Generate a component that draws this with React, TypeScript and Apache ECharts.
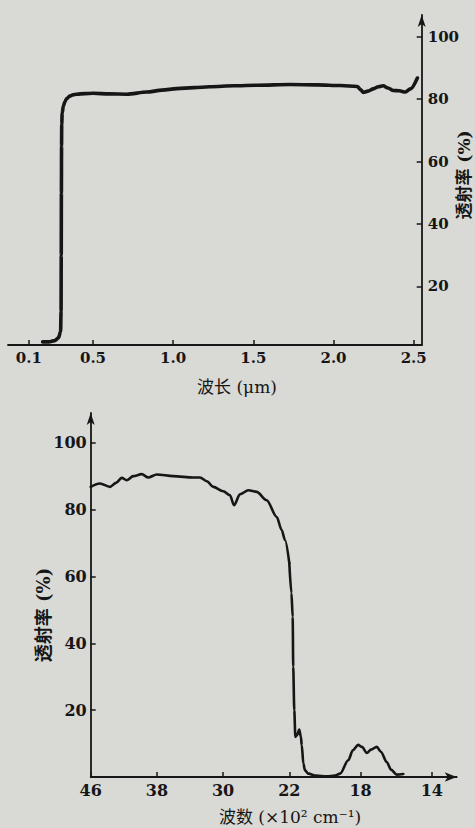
import React, { useEffect, useRef } from "react";
import * as echarts from "echarts";

// ---- Top chart: transmittance vs wavelength (µm) ----
const topWavelength = [
  0.186, 0.225, 0.261, 0.285, 0.298, 0.301, 0.302, 0.303, 0.304, 0.305, 0.308, 0.315,
  0.325, 0.336, 0.355, 0.375, 0.398, 0.45, 0.5, 0.6, 0.711, 0.836, 0.93, 1.023, 1.13,
  1.229, 1.38, 1.523, 1.729, 1.9, 2.042, 2.148, 2.17, 2.186, 2.215, 2.248, 2.28, 2.31,
  2.34, 2.373, 2.41, 2.448, 2.48, 2.523,
];
const topTransmittance = [
  2.2, 2.2, 2.6, 3.5, 5.5, 12, 30, 50, 65, 72, 75.5, 77.8,
  79.2, 80.2, 81, 81.4, 81.6, 81.8, 81.9, 81.7, 81.6, 82.3, 82.9, 83.4, 83.7,
  84.0, 84.3, 84.5, 84.7, 84.6, 84.4, 84.1, 83.0, 82.2, 82.6, 83.3, 84.0, 84.3,
  83.6, 82.8, 82.7, 82.3, 83.3, 86.8,
];
const topXTicks = [0.1, 0.5, 1.0, 1.5, 2.0, 2.5];
const topYTicks = [20, 40, 60, 80, 100];

// ---- Bottom chart: transmittance vs wavenumber (×10² cm⁻¹) ----
// section 46 → 22 (compressed scale)
const irWavenumberHigh = [
  46.0, 44.88, 43.67, 42.94, 42.25, 41.65, 40.85, 39.84, 39.04, 38.02, 36.02, 33.6,
  32.79, 31.98, 31.18, 29.98, 29.17, 28.68, 27.96, 26.95, 25.94, 24.73, 23.52, 22.92,
  22.52, 22.0,
];
const irTransmittanceHigh = [
  86.8, 87.8, 86.8, 88.0, 89.5, 88.8, 90.0, 90.6, 89.6, 90.5, 90.0, 89.6,
  89.6, 88.5, 86.8, 85.5, 84.3, 81.3, 84.6, 85.8, 85.3, 82.8, 77.8, 73.9,
  70.9, 64,
];
// section 22 → 14 (expanded scale)
const irWavenumberLow = [
  22.0, 21.88, 21.81, 21.78, 21.72, 21.66, 21.57, 21.44, 21.35, 21.3, 21.21, 21.12,
  20.93, 20.5, 19.9, 19.43, 19.15, 18.69, 18.43, 18.13, 17.92, 17.65, 17.41, 17.09,
  16.85, 16.53, 16.29, 15.97, 15.6,
];
const irTransmittanceLow = [
  64, 55, 47.9, 33, 20, 12, 12.5, 14.2, 12, 9.5, 4, 2,
  1.0, 0.4, 0.2, 0.4, 1.0, 5.0, 8.0, 9.6, 9.0, 7.2, 8.2, 9.0,
  7.5, 4.5, 2.2, 0.7, 0.9,
];
const irXTicksHigh = [46, 38, 30, 22];
const irXTicksLow = [18, 14];
const irYTicks = [20, 40, 60, 80, 100];

const INK = "#161616";
const NUM_FONT = "DejaVu Serif";
const CJK_FONT = '"DejaVu Serif", "Noto Sans CJK SC"';

const zip = (a: number[], b: number[]) => a.map((v, i) => [v, b[i]]);

export default function App() {
  const ref = useRef<HTMLDivElement>(null);

  useEffect(() => {
    if (!ref.current) return;
    const chart = echarts.init(ref.current, undefined, { renderer: "svg" });

    const axisLineStyle = { color: INK, width: 1.8 };
    const numLabel = (size: number) => ({
      color: INK,
      fontFamily: NUM_FONT,
      fontWeight: "bold" as const,
      fontSize: size,
    });

    const option: any = {
      animation: false,
      backgroundColor: "transparent",
      grid: [
        { left: 8, right: 53.3, top: 15, bottom: 483, outerBoundsMode: "none", containLabel: false },
        { left: 90.7, width: 198.6, top: 413, bottom: 51, outerBoundsMode: "none", containLabel: false },
        { left: 289.3, width: 167.4, top: 413, bottom: 51, outerBoundsMode: "none", containLabel: false },
      ],
      xAxis: [
        {
          type: "value",
          gridIndex: 0,
          min: -0.03,
          max: 2.55,
          axisLine: { show: true, onZero: false, lineStyle: axisLineStyle },
          axisTick: { show: true, inside: true, length: 5, customValues: topXTicks, lineStyle: { color: INK, width: 1.5 } },
          axisLabel: {
            ...numLabel(15),
            margin: 5,
            customValues: topXTicks,
            formatter: (v: number) => v.toFixed(1),
          },
          splitLine: { show: false },
        },
        {
          type: "value",
          gridIndex: 1,
          min: 22,
          max: 46,
          inverse: true,
          axisLine: { show: true, onZero: false, lineStyle: axisLineStyle },
          axisTick: { show: true, inside: true, length: 5, customValues: irXTicksHigh, lineStyle: { color: INK, width: 1.5 } },
          axisLabel: { ...numLabel(16), margin: 5, customValues: irXTicksHigh, formatter: (v: number) => String(v) },
          splitLine: { show: false },
        },
        {
          type: "value",
          gridIndex: 2,
          min: 12.6,
          max: 22,
          inverse: true,
          axisLine: {
            show: true,
            onZero: false,
            lineStyle: axisLineStyle,
            symbol: ["none", "arrow"],
            symbolSize: [7, 12],
          },
          axisTick: { show: true, inside: true, length: 5, customValues: irXTicksLow, lineStyle: { color: INK, width: 1.5 } },
          axisLabel: { ...numLabel(16), margin: 5, customValues: irXTicksLow, formatter: (v: number) => String(v) },
          splitLine: { show: false },
        },
      ],
      yAxis: [
        {
          type: "value",
          gridIndex: 0,
          position: "right",
          min: 1.2,
          max: 107,
          axisLine: {
            show: true,
            onZero: false,
            lineStyle: axisLineStyle,
            symbol: ["none", "arrow"],
            symbolSize: [6, 12],
          },
          axisTick: { show: true, inside: true, length: 5, customValues: topYTicks, lineStyle: { color: INK, width: 1.5 } },
          axisLabel: { ...numLabel(15), margin: 6, customValues: topYTicks, formatter: (v: number) => String(v) },
          splitLine: { show: false },
        },
        {
          type: "value",
          gridIndex: 1,
          min: 0,
          max: 108.9,
          axisLine: {
            show: true,
            onZero: false,
            lineStyle: axisLineStyle,
            symbol: ["none", "arrow"],
            symbolSize: [6, 12],
          },
          axisTick: { show: true, inside: true, length: 5, customValues: irYTicks, lineStyle: { color: INK, width: 1.5 } },
          axisLabel: { ...numLabel(16), margin: 4, customValues: irYTicks, formatter: (v: number) => String(v) },
          splitLine: { show: false },
        },
        {
          type: "value",
          gridIndex: 2,
          min: 0,
          max: 108.9,
          show: false,
        },
      ],
      series: [
        {
          type: "line",
          xAxisIndex: 0,
          yAxisIndex: 0,
          data: zip(topWavelength, topTransmittance),
          showSymbol: false,
          silent: true,
          smooth: 0.3,
          smoothMonotone: "x",
          lineStyle: { color: INK, width: 3.6, join: "round", cap: "round" },
        },
        {
          type: "line",
          xAxisIndex: 1,
          yAxisIndex: 1,
          data: zip(irWavenumberHigh, irTransmittanceHigh),
          showSymbol: false,
          silent: true,
          clip: false,
          smooth: 0.3,
          smoothMonotone: "x",
          lineStyle: { color: INK, width: 2.6, join: "round", cap: "round" },
        },
        {
          type: "line",
          xAxisIndex: 2,
          yAxisIndex: 2,
          data: zip(irWavenumberLow, irTransmittanceLow),
          showSymbol: false,
          silent: true,
          clip: false,
          smooth: 0.3,
          smoothMonotone: "x",
          lineStyle: { color: INK, width: 2.6, join: "round", cap: "round" },
        },
      ],
      graphic: [
        {
          type: "text",
          x: 237,
          y: 387,
          style: { text: "波长 (μm)", fontSize: 17, fontFamily: CJK_FONT, fill: INK, align: "center", verticalAlign: "middle" },
        },
        {
          type: "text",
          x: 464,
          y: 175,
          rotation: Math.PI / 2,
          style: { text: "透射率 (%)", fontSize: 17, fontWeight: "bold", fontFamily: CJK_FONT, fill: INK, align: "center", verticalAlign: "middle" },
        },
        {
          type: "text",
          x: 290,
          y: 817,
          style: { text: "波数 (×10² cm⁻¹)", fontSize: 17, fontFamily: CJK_FONT, fill: INK, align: "center", verticalAlign: "middle" },
        },
        {
          type: "text",
          x: 43,
          y: 615,
          rotation: Math.PI / 2,
          style: { text: "透射率 (%)", fontSize: 18, fontWeight: "bold", fontFamily: CJK_FONT, fill: INK, align: "center", verticalAlign: "middle" },
        },
      ],
    };

    chart.setOption(option);
    return () => chart.dispose();
  }, []);

  return (
    <div
      style={{
        position: "fixed",
        left: 0,
        top: 0,
        width: 475,
        height: 828,
        background: "#d9d9d5",
      }}
    >
      <div ref={ref} style={{ width: 475, height: 828 }} />
    </div>
  );
}
